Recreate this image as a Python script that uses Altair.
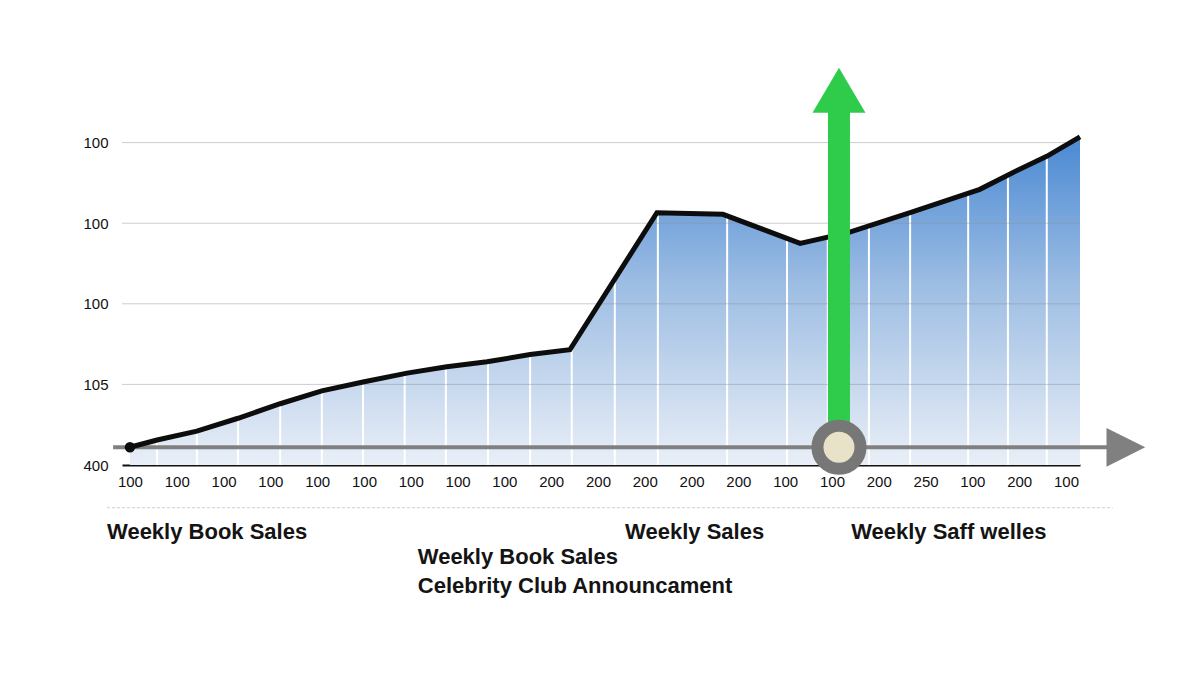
import altair as alt
import pandas as pd

# ---- data ----
weeks = [0.0, 0.58, 1.43, 2.31, 3.21, 4.10, 4.98, 5.92, 6.77, 7.63, 8.55, 9.40,
         11.26, 12.67, 14.32, 15.38, 16.67, 18.16, 18.87, 19.59, 20.30]
sales = [0.22, 0.31, 0.42, 0.58, 0.76, 0.92, 1.03, 1.14, 1.22, 1.28, 1.37, 1.43,
         3.13, 3.11, 2.75, 2.89, 3.13, 3.42, 3.63, 3.83, 4.07]
column_weeks = [0.58, 1.43, 2.31, 3.21, 4.10, 4.98, 5.87, 6.75, 7.65, 8.55, 9.44,
                10.36, 11.28, 12.76, 14.04, 14.91, 15.79, 16.67, 17.91, 18.76, 19.59]
x_ticks = list(range(21))
x_labels = ["100"] * 9 + ["200"] * 5 + ["100", "100", "200", "250", "100", "200", "100"]
y_ticks = [0, 1, 2, 3, 4]
y_labels = ["400", "105", "100", "100", "100"]
grid_levels = [1, 2, 3, 4]

baseline_level = 0.22          # grey timeline level
timeline_start = -0.36
timeline_end = 21.05
timeline_head = 21.28
event_week = 15.15             # celebrity club announcement
event_top = 4.38
event_head = 4.65

notes = ["Weekly Book Sales", "Weekly Sales", "Weekly Saff welles",
         "Weekly Book Sales", "Celebrity Club Announcament"]
note_weeks = [-0.49, 10.58, 15.41, 6.15, 6.15]
note_levels = [-0.83, -0.83, -0.83, -1.14, -1.50]
divider_level = -0.53
divider_from = -0.49
divider_to = 21.0

# ---- tables ----
df = pd.DataFrame({"week": weeks, "sales": sales})
cols = pd.DataFrame({"week": column_weeks})
grid = pd.DataFrame({"sales": grid_levels})
timeline = pd.DataFrame({"week": [timeline_start], "x2": [timeline_end], "sales": [baseline_level]})
head = pd.DataFrame({"week": [timeline_head], "sales": [baseline_level]})
event = pd.DataFrame({"week": [event_week], "sales": [baseline_level], "y2": [event_top], "yh": [event_head]})
start = df.iloc[[0]]
divider = pd.DataFrame({"week": [divider_from], "x2": [divider_to], "sales": [divider_level]})
ann = pd.DataFrame({"text": notes, "week": note_weeks, "sales": note_levels})

xs = alt.Scale(domain=[-0.17, 20.30], nice=False, zero=False)
ys = alt.Scale(domain=[0, 5], nice=False, zero=False)

x_label_expr = "[" + ",".join(f"'{l}'" for l in x_labels) + "][datum.value]"
y_label_expr = "[" + ",".join(f"'{l}'" for l in y_labels) + "][datum.value]"

font = "Liberation Sans"

x_axis = alt.Axis(
    values=x_ticks, labelExpr=x_label_expr, title=None, grid=False, ticks=False,
    domainColor="#111111", domainWidth=2, labelFont=font, labelFontSize=15,
    labelColor="#111111", labelPadding=9, labelFlush=False)
y_axis = alt.Axis(
    values=y_ticks, labelExpr=y_label_expr, title=None, grid=False, ticks=False,
    domain=False, labelFont=font, labelFontSize=15, labelColor="#111111",
    labelPadding=14)

X = alt.X("week:Q", scale=xs, axis=x_axis, title=None)
Y = alt.Y("sales:Q", scale=ys, axis=y_axis, title=None)

area = alt.Chart(df).mark_area(
    line=False,
    color=alt.Gradient(
        gradient="linear",
        stops=[alt.GradientStop(color="#e9eff7", offset=0),
               alt.GradientStop(color="#9dbde3", offset=0.55),
               alt.GradientStop(color="#4a89d3", offset=1)],
        x1=1, x2=1, y1=1, y2=0),
).encode(x=X, y=Y)

col_rules = alt.Chart(cols).mark_rule(color="white", strokeWidth=2).encode(x=X)

grid_rules = alt.Chart(grid).mark_rule(color="#8a8f98", strokeWidth=1, opacity=0.45).encode(y=Y)

divider_rule = alt.Chart(divider).mark_rule(color="#cfcfcf", strokeWidth=1, strokeDash=[3, 2]).encode(
    x=X, x2="x2:Q", y=Y)

timeline_rule = alt.Chart(timeline).mark_rule(color="#808080", strokeWidth=4).encode(
    x=X, x2="x2:Q", y=Y)

timeline_head_mark = alt.Chart(head).mark_point(
    shape="M-1,-1L1,0L-1,1Z", filled=True, size=1500, color="#808080", opacity=1).encode(x=X, y=Y)

line = alt.Chart(df).mark_line(color="#0d0d0d", strokeWidth=5, strokeJoin="miter").encode(x=X, y=Y)

start_dot = alt.Chart(start).mark_point(filled=True, size=110, color="#0d0d0d", opacity=1).encode(x=X, y=Y)

green_shaft = alt.Chart(event).mark_rule(color="#2fcc4c", strokeWidth=22).encode(x=X, y=Y, y2="y2:Q")

green_head = alt.Chart(event).mark_point(
    shape="M0,-0.85L1,0.85L-1,0.85Z", filled=True, size=2809, color="#2fcc4c", opacity=1).encode(
    x=X, y=alt.Y("yh:Q", scale=ys, axis=y_axis, title=None))

ring = alt.Chart(event).mark_point(
    shape="circle", filled=True, size=1850, fill="#e8e2c8", stroke="#777777",
    strokeWidth=12, opacity=1).encode(x=X, y=Y)

texts = alt.Chart(ann).mark_text(
    align="left", baseline="middle", font=font, fontSize=22, fontWeight="bold",
    color="#141414").encode(x=X, y=Y, text="text:N")

chart = alt.layer(
    area, col_rules, grid_rules, divider_rule, timeline_rule, timeline_head_mark,
    line, start_dot, green_shaft, green_head, ring, texts
).properties(
    width=958, height=403,
    autosize=alt.AutoSizeParams(type="none"),
    padding={"left": 114, "top": 54, "right": 100, "bottom": 160},
    background="white",
).configure_view(stroke=None)

chart.save("out.html", embed_options={"renderer": "svg", "actions": False})
